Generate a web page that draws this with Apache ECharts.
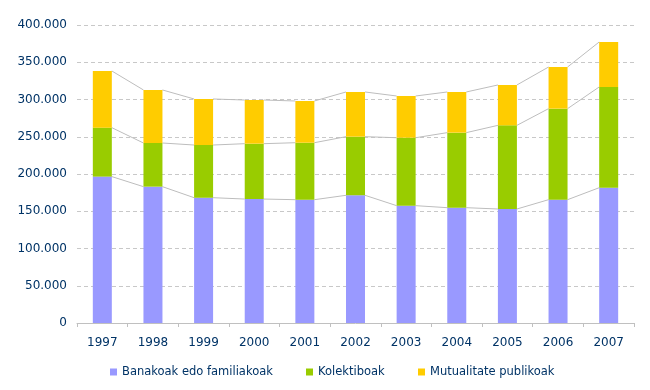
<!DOCTYPE html>
<html><head><meta charset="utf-8">
<script src="https://cdn.jsdelivr.net/npm/echarts@6/dist/echarts.min.js"></script>
<style>html,body{margin:0;padding:0;background:#fff}#c{width:650px;height:390px}</style>
</head><body><div id="c"></div>
<script>
var years = ['1997','1998','1999','2000','2001','2002','2003','2004','2005','2006','2007'];
var banakoak = [196500,183000,168200,166400,165500,171400,157500,154800,153000,165500,181600];
var kolektiboak = [65700,58600,70700,74300,76500,78700,91200,100700,112300,122200,135200];
var mutualitate = [76100,71200,61800,58600,56000,60000,56000,54600,54200,55900,60400];
var seriesNames = ['Banakoak edo familiakoak','Kolektiboak','Mutualitate publikoak'];
var yTicks = [0,50000,100000,150000,200000,250000,300000,350000,400000];

var colors = ['#9999FF','#99CC00','#FFCC00'];
var textColor = '#003366';
var font = 'DejaVu Sans';
var barW = 19;

var raw = [banakoak, kolektiboak, mutualitate];
var cum = [];
var run = years.map(function(){return 0;});
raw.forEach(function(arr){
  run = run.map(function(v,i){return v+arr[i];});
  cum.push(run.slice());
});

function fmt(v){ return v===0 ? '0' : String(v).replace(/\B(?=(\d{3})+(?!\d))/g,'.'); }

var series = raw.map(function(arr,k){
  return {name:seriesNames[k], type:'bar', stack:'s', data:arr, barWidth:barW,
    itemStyle:{color:colors[k]}, z:3};
});
cum.forEach(function(c){
  var d = [];
  for (var i=0;i<c.length-1;i++) d.push([i, c[i], c[i+1]]);
  series.push({type:'custom', silent:true, z:2, encode:{x:0,y:1},
    renderItem:function(params, api){
      var i = api.value(0);
      var p1 = api.coord([i, api.value(1)]);
      var p2 = api.coord([i+1, api.value(2)]);
      return {type:'line', shape:{x1:p1[0]+barW/2, y1:p1[1], x2:p2[0]-barW/2, y2:p2[1]},
        style:{stroke:'#BDBDBD', lineWidth:1}};
    }, data:d});
});

var legendLefts = [105, 301, 413];
var chart = echarts.init(document.getElementById('c'), null, {renderer:'canvas'});
chart.setOption({
  animation:false,
  grid:{left:77, right:16, top:25, bottom:67},
  legend: seriesNames.map(function(n,k){
    return {data:[n], left:legendLefts[k], top:361, icon:'rect', itemWidth:7, itemHeight:7, itemGap:4,
      textStyle:{color:textColor, fontFamily:font, fontSize:11.5}, selectedMode:false};
  }),
  xAxis:{type:'category', data:years,
    axisLine:{lineStyle:{color:'#C0C0C0'}},
    axisTick:{show:true, length:4, lineStyle:{color:'#C0C0C0'}},
    axisLabel:{color:textColor, fontFamily:font, fontSize:12, margin:14}},
  yAxis:{type:'value', min:0, max:400000, interval:50000,
    axisLine:{show:false}, axisTick:{show:false},
    splitLine:{lineStyle:{color:'#C8C8C8', type:[4,3]}},
    axisLabel:{color:textColor, fontFamily:font, fontSize:12, margin:10, formatter:function(v){return fmt(v);}}},
  series:series
});
</script></body></html>
